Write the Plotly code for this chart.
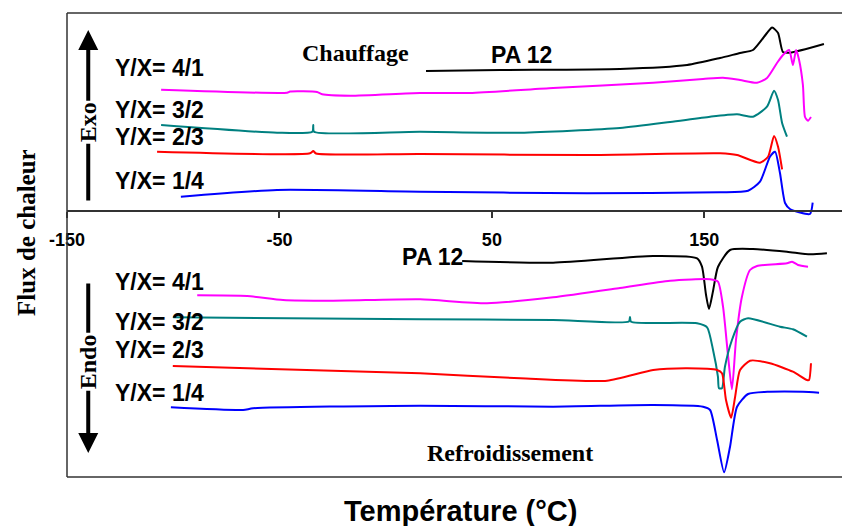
import plotly.graph_objects as go

# ---------------- data (temperature °C, heat flow in arbitrary units) ----------------
# Heating (Chauffage)
h_pa12_T = [19.0, 53.8, 110.3, 141.9, 157.4, 166.8, 172.9, 179.5, 181.9, 184.7, 187.0, 190.3, 206.3]
h_pa12_Q = [406, 407, 408, 412, 419, 424, 427, 444, 449.5, 444, 425, 424.3, 433]

h_41_T = [-105.7, -46.4, -45.0, -32.3, -29.9, -16.7, 16.2, 39.7, 78.8, 125.9, 149.4, 158.8, 166.8, 174.8,
          179.5, 184.2, 187.0, 189.9, 191.7, 193.2, 194.6, 196.4, 197.4, 198.8, 200.2]
h_41_Q = [387.3, 384.3, 385.5, 385, 382.7, 381.3, 384, 384, 389, 394.3, 398, 399.3, 397, 394.3,
          399, 414, 422, 427, 412, 427, 417, 392, 360, 356.3, 360]

h_32_T = [-105.7, -51.1, -34.5, -34.1, -33.7, 16.2, 63.3, 110.3, 133.9, 152.7, 165.4, 172.9, 179.5,
          182.8, 184.7, 186.6, 188.9]
h_32_Q = [352, 344.3, 345.3, 352, 345.3, 345.3, 344.3, 349, 355, 360.3, 362.7, 360.3, 370.3,
          386.3, 377, 354, 340.3]

h_23_T = [-107.6, -35.6, -34.1, -32.8, 16.2, 94.8, 157.4, 165.4, 176.2, 180.0, 182.8, 184.7, 186.6]
h_23_Q = [325.3, 323.7, 326, 323.5, 323, 322, 323.7, 322, 314.3, 320.3, 341, 330.3, 307.7]

h_14_T = [-96.4, -51.1, 16.2, 94.8, 157.4, 170.6, 176.2, 180.9, 183.3, 185.6, 188.0, 190.3, 199.7, 201.0]
h_14_Q = [280.3, 287, 285.3, 283.7, 284.7, 286.3, 295.3, 320.3, 325.3, 304, 274, 268, 263, 274.3]

# Cooling (Refroidissement)
c_pa12_T = [36.0, 78.8, 125.9, 146.6, 148.9, 150.8, 152.2, 154.1, 156.4, 162.1, 172.9, 188.9, 199.7, 207.7]
c_pa12_Q = [216, 214.3, 221, 218.7, 210.3, 182, 168, 186, 210, 227, 228, 225.3, 222.7, 223.7]

c_41_T = [-88.7, -65.2, -48.3, -24.7, 16.2, 47.7, 78.8, 110.3, 133.9, 152.7, 156.4, 158.8, 161.2, 163.0,
          164.9, 167.7, 171.5, 174.8, 188.9, 191.3, 194.1, 198.8]
c_41_Q = [181.7, 181, 177, 176.3, 177.7, 173.7, 179.7, 189, 196.3, 197.7, 195.3, 170.3, 120.3, 87.7,
          137, 180.3, 207, 211, 213.7, 215.3, 212, 210.3]

c_32_T = [-100.0, 16.2, 78.8, 114.5, 115.0, 115.5, 146.6, 151.3, 154.1, 156.4, 156.9, 158.3, 159.7,
          163.0, 166.8, 170.6, 185.6, 191.7, 198.3]
c_32_Q = [159.7, 157.7, 157, 155.5, 160, 155.3, 153.7, 149.7, 127, 100.3, 88.7, 88.7, 110.3,
          137, 155.3, 158.7, 150.3, 147.7, 140.3]

c_23_T = [-100.2, 16.2, 63.3, 104.2, 125.9, 141.9, 156.0, 158.3, 160.2, 162.6, 164.5, 166.8, 171.5,
          180.9, 191.7, 198.3, 199.3, 200.2]
c_23_Q = [111, 103.7, 98.7, 96.3, 107, 108.7, 107, 103.7, 77, 59.3, 80.3, 107, 116.3,
          113.7, 105.3, 97, 97, 113.7]

c_14_T = [-101.1, -67.1, -62.4, 16.2, 78.8, 125.9, 149.4, 152.7, 156.0, 159.3, 162.1, 165.4, 170.6,
          180.9, 196.4, 204.0]
c_14_Q = [69.7, 67, 68.7, 71.3, 70.3, 72, 70.3, 67, 37, 4.7, 30.3, 70.3, 83, 85.3, 85.3, 84.3]

tick_vals = [-150, -50, 50, 150]
tick_text = ["-150", "-50", "50", "150"]
ratio_labels = ["Y/X= 4/1", "Y/X= 3/2", "Y/X= 2/3", "Y/X= 1/4"]
top_label_Q = [409, 367, 340, 296]
bot_label_Q = [195.3, 155.3, 127, 83.7]

# ---------------- figure ----------------
SANS = "Liberation Sans, Arial, sans-serif"
SERIF = "Liberation Serif, Times New Roman, serif"

fig = go.Figure()
series = [
    (h_pa12_T, h_pa12_Q, "black"), (h_41_T, h_41_Q, "#FF00FF"), (h_32_T, h_32_Q, "#008080"),
    (h_23_T, h_23_Q, "#FF0000"), (h_14_T, h_14_Q, "#0000FF"),
    (c_pa12_T, c_pa12_Q, "black"), (c_41_T, c_41_Q, "#FF00FF"), (c_32_T, c_32_Q, "#008080"),
    (c_23_T, c_23_Q, "#FF0000"), (c_14_T, c_14_Q, "#0000FF"),
]
for xs, ys, col in series:
    fig.add_trace(go.Scatter(x=xs, y=ys, mode="lines",
                             line=dict(color=col, width=2, shape="spline", smoothing=0.6),
                             showlegend=False, hoverinfo="skip"))

ann = []
for lab, q in zip(ratio_labels, top_label_Q):
    ann.append(dict(x=-128.3, y=q, text="<b>%s</b>" % lab, showarrow=False, xanchor="left",
                    font=dict(family=SANS, size=23, color="black")))
for lab, q in zip(ratio_labels, bot_label_Q):
    ann.append(dict(x=-128.3, y=q, text="<b>%s</b>" % lab, showarrow=False, xanchor="left",
                    font=dict(family=SANS, size=23, color="black")))

ann += [
    dict(x=-14.4, y=424, text="<b>Chauffage</b>", showarrow=False, font=dict(family=SERIF, size=24, color="black")),
    dict(x=64.1, y=422, text="<b>PA 12</b>", showarrow=False, font=dict(family=SANS, size=23, color="black")),
    dict(x=21.9, y=220, text="<b>PA 12</b>", showarrow=False, font=dict(family=SANS, size=23, color="black")),
    dict(x=58.6, y=24, text="<b>Refroidissement</b>", showarrow=False, font=dict(family=SERIF, size=24, color="black")),
    # arrows
    dict(x=-140, y=447, ax=-140, ay=275, axref="x", ayref="y", xref="x", yref="y", text="",
         showarrow=True, arrowhead=2, arrowsize=1, arrowwidth=4, arrowcolor="black"),
    dict(x=-140, y=24, ax=-140, ay=195, axref="x", ayref="y", xref="x", yref="y", text="",
         showarrow=True, arrowhead=2, arrowsize=1, arrowwidth=4, arrowcolor="black"),
    dict(x=-140, y=355, text="<b>Exo</b>", showarrow=False, textangle=-90, bgcolor="white",
         font=dict(family=SERIF, size=24, color="black")),
    dict(x=-140, y=115, text="<b>Endo</b>", showarrow=False, textangle=-90, bgcolor="white",
         font=dict(family=SERIF, size=24, color="black")),
    dict(xref="paper", yref="paper", x=-0.0516, y=0.526, xanchor="center", yanchor="middle",
         text="<b>Flux de chaleur</b>", showarrow=False,
         textangle=-90, font=dict(family=SERIF, size=25, color="black")),
    dict(xref="paper", yref="paper", x=0.508, y=-0.0733, xanchor="center", yanchor="middle",
         text="<b>Température (°C)</b>", showarrow=False,
         font=dict(family=SANS, size=29, color="black")),
]

shapes = [
    dict(type="line", xref="paper", yref="paper", x0=0, x1=1, y0=1, y1=1, line=dict(color="#333", width=1.5)),
    dict(type="line", xref="paper", yref="paper", x0=0, x1=1, y0=0, y1=0, line=dict(color="#333", width=1.5)),
    dict(type="line", xref="paper", yref="paper", x0=0, x1=0, y0=0, y1=1, line=dict(color="#333", width=1.5)),
]

fig.update_layout(
    width=842, height=526,
    margin=dict(l=67, r=0, t=13, b=49),
    paper_bgcolor="white", plot_bgcolor="white",
    annotations=ann, shapes=shapes,
    xaxis=dict(range=[-150, 214.8], anchor="free", position=266 / 464,
               tickvals=tick_vals, ticktext=["<b>%s</b>" % t for t in tick_text],
               ticks="outside", ticklen=6, tickwidth=1.5, tickcolor="#333", ticklabelstandoff=7,
               showline=True, linecolor="#333", linewidth=1.5, showgrid=False, zeroline=False,
               tickfont=dict(family=SANS, size=18, color="black")),
    yaxis=dict(range=[0, 464], visible=False, showgrid=False, zeroline=False),
)

fig.write_html("out.html", config={"displayModeBar": False},
               post_script="document.body.style.margin='0';document.body.style.overflow='hidden';")
